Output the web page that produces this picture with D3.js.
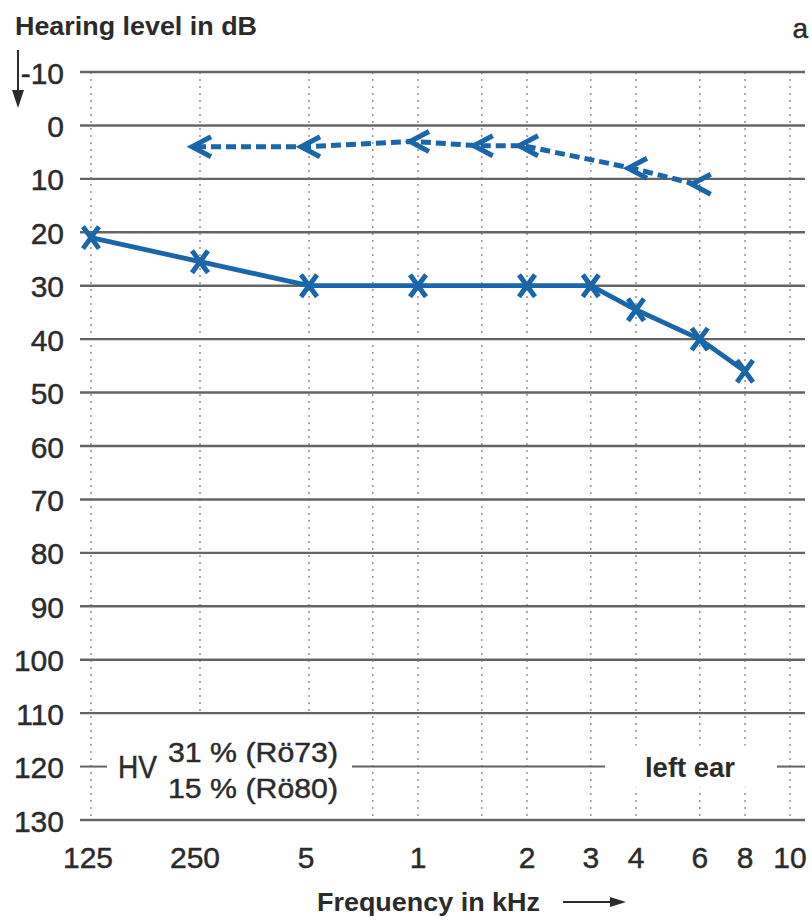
<!DOCTYPE html>
<html>
<head>
<meta charset="utf-8">
<script src="https://cdn.jsdelivr.net/npm/d3@7/dist/d3.min.js"></script>
<style>
  html, body { margin: 0; padding: 0; background: #fff; }
  svg { display: block; }
  text { font-family: "Liberation Sans", Arial, sans-serif; fill: #2b2b2b; }
  text.reg { stroke: #2b2b2b; stroke-width: 0.45px; }
</style>
</head>
<body>
<svg id="chart" width="812" height="923"></svg>
<script>
// ---- data ----
const gridFreqs = [125, 250, 500, 750, 1000, 1500, 2000, 3000, 4000, 6000, 8000, 10000];
const tickFreqs = [125, 250, 500, 1000, 2000, 3000, 4000, 6000, 8000, 10000];
const tickLabels = ["125", "250", "5", "1", "2", "3", "4", "6", "8", "10"];
const dbTicks = [-10, 0, 10, 20, 30, 40, 50, 60, 70, 80, 90, 100, 110, 120, 130];

const airFreqs = [125, 250, 500, 1000, 2000, 3000, 4000, 6000, 8000];
const airValues = [21, 25.5, 30, 30, 30, 30, 34.5, 40, 46];

const boneFreqs = [250, 500, 1000, 1500, 2000, 4000, 6000];
const boneValues = [4, 4, 3, 3.8, 3.8, 8, 11];

const yTitle = "Hearing level in dB";
const xTitle = "Frequency in kHz";
const panelLabel = "a";
const hvLines = ["31 % (Rö73)", "15 % (Rö80)"];
const earLabel = "left ear";
const hvLevel = 120;

// ---- scales ----
const x = d3.scaleLog().domain([125, 8000, 10000]).range([91, 745, 790]);
const y = d3.scaleLinear().domain([-10, 130]).range([72, 820]);
const xLeft = 80, xRight = 805;
const blue = "#1967aa";

const svg = d3.select("#chart");
svg.append("rect").attr("width", 812).attr("height", 923).attr("fill", "#fff");

// vertical dotted grid
svg.append("g").selectAll("line").data(gridFreqs).join("line")
  .attr("x1", d => x(d)).attr("x2", d => x(d))
  .attr("y1", y(-10)).attr("y2", y(130))
  .attr("stroke", "#999").attr("stroke-width", 1.6)
  .attr("stroke-dasharray", "2,5");

// white boxes behind labels in the 110-130 band
svg.append("rect").attr("x", 110).attr("y", y(110) + 3).attr("width", 238)
  .attr("height", y(130) - y(110) - 6).attr("fill", "#fff");
svg.append("rect").attr("x", 612).attr("y", y(hvLevel) - 21).attr("width", 160)
  .attr("height", 42).attr("fill", "#fff");

// horizontal grid lines (HV level drawn in segments)
svg.append("g").selectAll("line").data(dbTicks.filter(d => d !== hvLevel)).join("line")
  .attr("x1", xLeft).attr("x2", xRight)
  .attr("y1", d => y(d)).attr("y2", d => y(d))
  .attr("stroke", "#646464").attr("stroke-width", 2.4);

const hvSegs = [[xLeft, 107], [352, 605], [777, xRight]];
svg.append("g").selectAll("line").data(hvSegs).join("line")
  .attr("x1", d => d[0]).attr("x2", d => d[1])
  .attr("y1", y(hvLevel)).attr("y2", y(hvLevel))
  .attr("stroke", "#646464").attr("stroke-width", 2);

// y tick labels
svg.append("g").selectAll("text").data(dbTicks).join("text")
  .attr("class", "reg")
  .attr("x", 64).attr("y", d => y(d) + 1)
  .attr("text-anchor", "end").attr("dominant-baseline", "central")
  .attr("font-size", 30)
  .text(d => d);

// x tick labels
svg.append("g").selectAll("text").data(tickFreqs).join("text")
  .attr("class", "reg")
  .attr("x", (d, i) => x(d) + (i === 0 ? -3 : i === 1 ? -5 : i === 2 ? -3 : 0))
  .attr("y", 868)
  .attr("text-anchor", "middle")
  .attr("font-size", 30)
  .text((d, i) => tickLabels[i]);

// titles
svg.append("text").attr("x", 15).attr("y", 35).attr("font-size", 26).attr("font-weight", "bold")
  .attr("textLength", 242).attr("lengthAdjust", "spacingAndGlyphs").text(yTitle);
svg.append("text").attr("class", "reg").attr("x", 808).attr("y", 38).attr("text-anchor", "end")
  .attr("font-size", 28).text(panelLabel);
svg.append("text").attr("x", 317).attr("y", 911).attr("font-size", 26).attr("font-weight", "bold")
  .attr("textLength", 223).attr("lengthAdjust", "spacingAndGlyphs").text(xTitle);

// arrows
svg.append("line").attr("x1", 18).attr("x2", 18).attr("y1", 50).attr("y2", 95)
  .attr("stroke", "#2b2b2b").attr("stroke-width", 2);
svg.append("path").attr("d", "M12,90 L24,90 L18,108 Z").attr("fill", "#2b2b2b");
svg.append("line").attr("x1", 563).attr("x2", 615).attr("y1", 902).attr("y2", 902)
  .attr("stroke", "#2b2b2b").attr("stroke-width", 2);
svg.append("path").attr("d", "M610,897 L626,902 L610,907 Z").attr("fill", "#2b2b2b");

// HV text
svg.append("text").attr("class", "reg").attr("x", 118).attr("y", y(hvLevel) + 1).attr("dominant-baseline", "central")
  .attr("font-size", 31).attr("textLength", 39).attr("lengthAdjust", "spacingAndGlyphs").text("HV");
svg.append("g").selectAll("text").data(hvLines).join("text")
  .attr("class", "reg")
  .attr("x", 168).attr("y", (d, i) => 762 + i * 36)
  .attr("font-size", 28).attr("textLength", 170).attr("lengthAdjust", "spacingAndGlyphs")
  .text(d => d);
svg.append("text").attr("x", 645).attr("y", y(hvLevel) + 1).attr("dominant-baseline", "central")
  .attr("font-size", 27).attr("font-weight", "bold")
  .attr("textLength", 90).attr("lengthAdjust", "spacingAndGlyphs").text(earLabel);

// bone conduction: dashed line with "<" markers
const bone = boneFreqs.map((f, i) => ({ f, v: boneValues[i] }));
svg.append("path").datum(bone)
  .attr("d", d3.line().x(d => x(d.f) - 4).y(d => y(d.v)))
  .attr("fill", "none").attr("stroke", blue).attr("stroke-width", 5)
  .attr("stroke-dasharray", "10,5");
svg.append("g").selectAll("path").data(bone).join("path")
  .attr("transform", d => `translate(${x(d.f)},${y(d.v)})`)
  .attr("d", "M11,-10 L-8,0 L11,10")
  .attr("fill", "none").attr("stroke", blue).attr("stroke-width", 5)
  .attr("stroke-linejoin", "miter");

// air conduction: solid line with X markers
const air = airFreqs.map((f, i) => ({ f, v: airValues[i] }));
svg.append("path").datum(air)
  .attr("d", d3.line().x(d => x(d.f)).y(d => y(d.v)))
  .attr("fill", "none").attr("stroke", blue).attr("stroke-width", 4.8)
  .attr("stroke-linejoin", "round");
svg.append("g").selectAll("path").data(air).join("path")
  .attr("transform", d => `translate(${x(d.f)},${y(d.v)})`)
  .attr("d", "M-8,-11 L8,11 M8,-11 L-8,11")
  .attr("fill", "none").attr("stroke", blue).attr("stroke-width", 5);
</script>
</body>
</html>
